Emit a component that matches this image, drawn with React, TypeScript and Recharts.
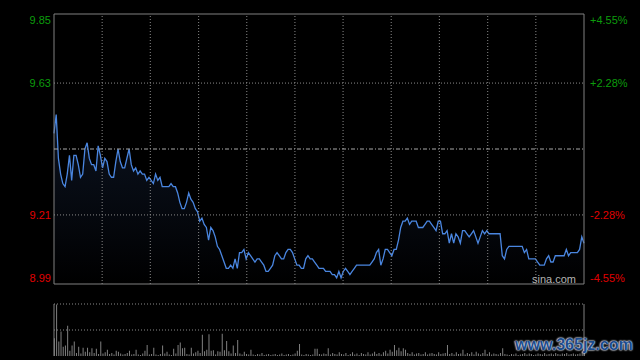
import React from 'react'
import {
  ComposedChart,
  Area,
  BarChart,
  Bar,
  XAxis,
  YAxis,
  ReferenceLine,
  ReferenceArea,
} from 'recharts'

// one price per trading minute
const prices = [
  9.47, 9.53, 9.39, 9.34, 9.31, 9.30, 9.34, 9.40, 9.32, 9.40,
  9.40, 9.37, 9.33, 9.34, 9.42, 9.44, 9.39, 9.37, 9.37, 9.35,
  9.43, 9.40, 9.36, 9.39, 9.38, 9.34, 9.33, 9.33, 9.38, 9.42,
  9.38, 9.36, 9.36, 9.39, 9.42, 9.37, 9.35, 9.36, 9.34, 9.35,
  9.34, 9.34, 9.32, 9.33, 9.32, 9.31, 9.34, 9.32, 9.33, 9.30,
  9.30, 9.30, 9.30, 9.31, 9.30, 9.30, 9.28, 9.25, 9.23, 9.23,
  9.25, 9.28, 9.26, 9.25, 9.23, 9.22, 9.19, 9.20, 9.18, 9.17,
  9.13, 9.17, 9.16, 9.14, 9.11, 9.10, 9.08, 9.06, 9.04, 9.04,
  9.05, 9.04, 9.07, 9.04, 9.09, 9.09, 9.10, 9.07, 9.09, 9.08,
  9.07, 9.06, 9.07, 9.07, 9.06, 9.05, 9.03, 9.03, 9.04, 9.05,
  9.08, 9.09, 9.08, 9.07, 9.07, 9.09, 9.10, 9.10, 9.09, 9.07,
  9.05, 9.05, 9.04, 9.04, 9.07, 9.08, 9.07, 9.07, 9.06, 9.05,
  9.04, 9.04, 9.04, 9.03, 9.03, 9.03, 9.02, 9.02, 9.01, 9.03,
  9.01, 9.03, 9.04, 9.03, 9.02, 9.03, 9.04, 9.05, 9.05, 9.05,
  9.05, 9.05, 9.05, 9.05, 9.06, 9.07, 9.09, 9.10, 9.05, 9.07,
  9.10, 9.10, 9.09, 9.08, 9.10, 9.10, 9.13, 9.17, 9.19, 9.19,
  9.20, 9.18, 9.19, 9.19, 9.19, 9.17, 9.17, 9.17, 9.18, 9.19,
  9.19, 9.18, 9.17, 9.16, 9.19, 9.19, 9.15, 9.15, 9.16, 9.12,
  9.15, 9.12, 9.15, 9.14, 9.12, 9.16, 9.16, 9.15, 9.14, 9.15,
  9.16, 9.14, 9.12, 9.14, 9.16, 9.15, 9.16, 9.15, 9.15, 9.15,
  9.15, 9.15, 9.15, 9.08, 9.07, 9.10, 9.11, 9.11, 9.11, 9.11,
  9.11, 9.11, 9.11, 9.09, 9.10, 9.07, 9.07, 9.07, 9.07, 9.06,
  9.05, 9.05, 9.05, 9.07, 9.08, 9.06, 9.06, 9.08, 9.08, 9.08,
  9.08, 9.08, 9.10, 9.08, 9.09, 9.09, 9.09, 9.09, 9.10, 9.14,
  9.12,
]

const volumes = [
  34, 99, 28, 47, 18, 20, 58, 10, 20, 28,
  6, 18, 5, 16, 8, 16, 7, 15, 6, 14,
  4, 28, 5, 7, 12, 4, 6, 3, 10, 8,
  5, 3, 4, 6, 10, 3, 4, 12, 3, 2,
  5, 10, 21, 3, 4, 16, 3, 2, 4, 20,
  5, 8, 3, 2, 14, 5, 21, 26, 15, 16,
  4, 3, 16, 5, 7, 10, 6, 41, 9, 12,
  42, 10, 11, 3, 9, 8, 43, 11, 29, 9,
  5, 20, 6, 31, 5, 3, 8, 4, 3, 12,
  3, 2, 4, 3, 6, 2, 3, 4, 2, 3,
  4, 2, 3, 5, 2, 3, 4, 2, 3, 5,
  10, 23, 3, 2, 4, 3, 2, 3, 14, 14,
  4, 3, 5, 4, 15, 3, 6, 4, 3, 7,
  4, 3, 6, 2, 4, 7, 3, 5, 2, 6,
  4, 3, 7, 3, 5, 8, 4, 6, 3, 7,
  10, 5, 12, 8, 21, 11, 16, 9, 15, 12,
  6, 4, 7, 3, 5, 6, 3, 4, 7, 3,
  5, 6, 4, 3, 7, 4, 5, 6, 21, 4,
  6, 3, 7, 4, 5, 12, 3, 6, 4, 7,
  3, 8, 5, 3, 6, 12, 4, 7, 3, 5,
  4, 3, 6, 15, 4, 3, 2, 4, 3, 5,
  2, 3, 4, 6, 3, 5, 4, 2, 3, 5,
  4, 3, 6, 3, 4, 5, 3, 6, 4, 3,
  5, 4, 6, 3, 4, 5, 3, 4, 5, 8,
  6,
]

const prevClose = 9.42
const priceTicks = [9.85, 9.63, 9.21, 8.99]
const pctLabels = ['+4.55%', '+2.28%', '-2.28%', '-4.55%']
const gridMinutes = [21.8, 43.6, 65.5, 87.3, 109.1, 130.9, 152.7, 174.5, 196.4, 218.2]

const data = prices.map((p, i) => ({ m: i, price: p, vol: volumes[i] ?? 0 }))

const FONT = '"Liberation Sans", Arial, sans-serif'
const GREEN = '#0c9c0c'
const RED = '#e00000'
const GRID = '#8a8a8a'
const BORDER = '#808080'

function tickShift(v: number) {
  if (v === priceTicks[0]) return 6
  if (v === priceTicks[priceTicks.length - 1]) return -6
  return 0
}

function LeftTick(props: any) {
  const v = props.payload.value
  return (
    <text
      x={51}
      y={props.y + tickShift(v)}
      textAnchor="end"
      dominantBaseline="central"
      fill={v >= prevClose ? GREEN : RED}
      fontSize={11}
      fontFamily={FONT}
    >
      {v.toFixed(2)}
    </text>
  )
}

function RightTick(props: any) {
  const v = props.payload.value
  const idx = priceTicks.indexOf(v)
  return (
    <text
      x={590}
      y={props.y + tickShift(v)}
      textAnchor="start"
      dominantBaseline="central"
      fill={v >= prevClose ? GREEN : RED}
      fontSize={11}
      fontFamily={FONT}
    >
      {pctLabels[idx]}
    </text>
  )
}

export default function App() {
  return (
    <div
      style={{
        position: 'fixed',
        left: 0,
        top: 0,
        width: 640,
        height: 360,
        background: '#000',
        overflow: 'hidden',
      }}
    >
      <div style={{ position: 'absolute', left: 0, top: 0 }}>
        <ComposedChart width={640} height={300} data={data} margin={{ top: 14, right: 0, bottom: 16, left: 0 }}>
          <defs>
            <linearGradient id="priceFill" x1="0" y1="0" x2="0" y2="1">
              <stop offset="0%" stopColor="#16233d" stopOpacity={0.85} />
              <stop offset="100%" stopColor="#000000" stopOpacity={1} />
            </linearGradient>
          </defs>
          <XAxis dataKey="m" type="number" domain={[0, 240]} hide />
          <YAxis
            yAxisId="left"
            orientation="left"
            width={54}
            domain={[8.99, 9.85]}
            ticks={priceTicks}
            allowDataOverflow
            axisLine={false}
            tickLine={false}
            tick={(p: any) => <LeftTick {...p} />}
          />
          <YAxis
            yAxisId="right"
            orientation="right"
            width={56}
            domain={[8.99, 9.85]}
            ticks={priceTicks}
            allowDataOverflow
            axisLine={false}
            tickLine={false}
            tick={(p: any) => <RightTick {...p} />}
          />
          <Area
            yAxisId="left"
            type="linear"
            dataKey="price"
            stroke="#4a86e0"
            strokeWidth={1.3}
            fill="url(#priceFill)"
            baseValue="dataMin"
            dot={false}
            activeDot={false}
            isAnimationActive={false}
          />
          {gridMinutes.map((m) => (
            <ReferenceLine key={m} yAxisId="left" x={m} stroke={GRID} strokeDasharray="1 2" />
          ))}
          <ReferenceLine yAxisId="left" y={9.63} stroke={GRID} strokeDasharray="1 2" />
          <ReferenceLine yAxisId="left" y={9.21} stroke={GRID} strokeDasharray="1 2" />
          <ReferenceLine yAxisId="left" y={prevClose} stroke="#a8a8a8" strokeDasharray="4 2 1 2" />
          <ReferenceArea
            yAxisId="left"
            x1={0}
            x2={240}
            y1={8.99}
            y2={9.85}
            fill="none"
            stroke={BORDER}
            strokeWidth={1}
            ifOverflow="visible"
          />
        </ComposedChart>
      </div>
      <div
        style={{
          position: 'absolute',
          left: 532,
          top: 273,
          color: '#b4b4b4',
          fontFamily: FONT,
          fontSize: 11,
          lineHeight: '13px',
        }}
      >
        sina.com
      </div>
      <div style={{ position: 'absolute', left: 0, top: 300 }}>
        <BarChart width={640} height={60} data={data} margin={{ top: 4, right: 56, bottom: 4, left: 54 }}>
          <XAxis dataKey="m" type="number" domain={[0, 240]} hide />
          <YAxis domain={[0, 100]} hide allowDataOverflow />
          <ReferenceLine y={100} stroke={GRID} strokeDasharray="1 2" />
          <ReferenceLine y={50} stroke={GRID} strokeDasharray="1 2" />
          <ReferenceLine x={0} stroke={BORDER} />
          <ReferenceLine x={240} stroke={BORDER} />
          <Bar dataKey="vol" fill="#808080" barSize={1} isAnimationActive={false} />
        </BarChart>
      </div>
      <div
        style={{
          position: 'absolute',
          left: 515,
          top: 336,
          color: '#1d4c8c',
          fontFamily: FONT,
          fontWeight: 'bold',
          fontSize: 16,
          lineHeight: '18px',
          textShadow: '0 0 2px #d8e2f0, 0 0 2px #d8e2f0, 0 0 1px #ffffff',
        }}
      >
        www.365jz.com
      </div>
    </div>
  )
}
